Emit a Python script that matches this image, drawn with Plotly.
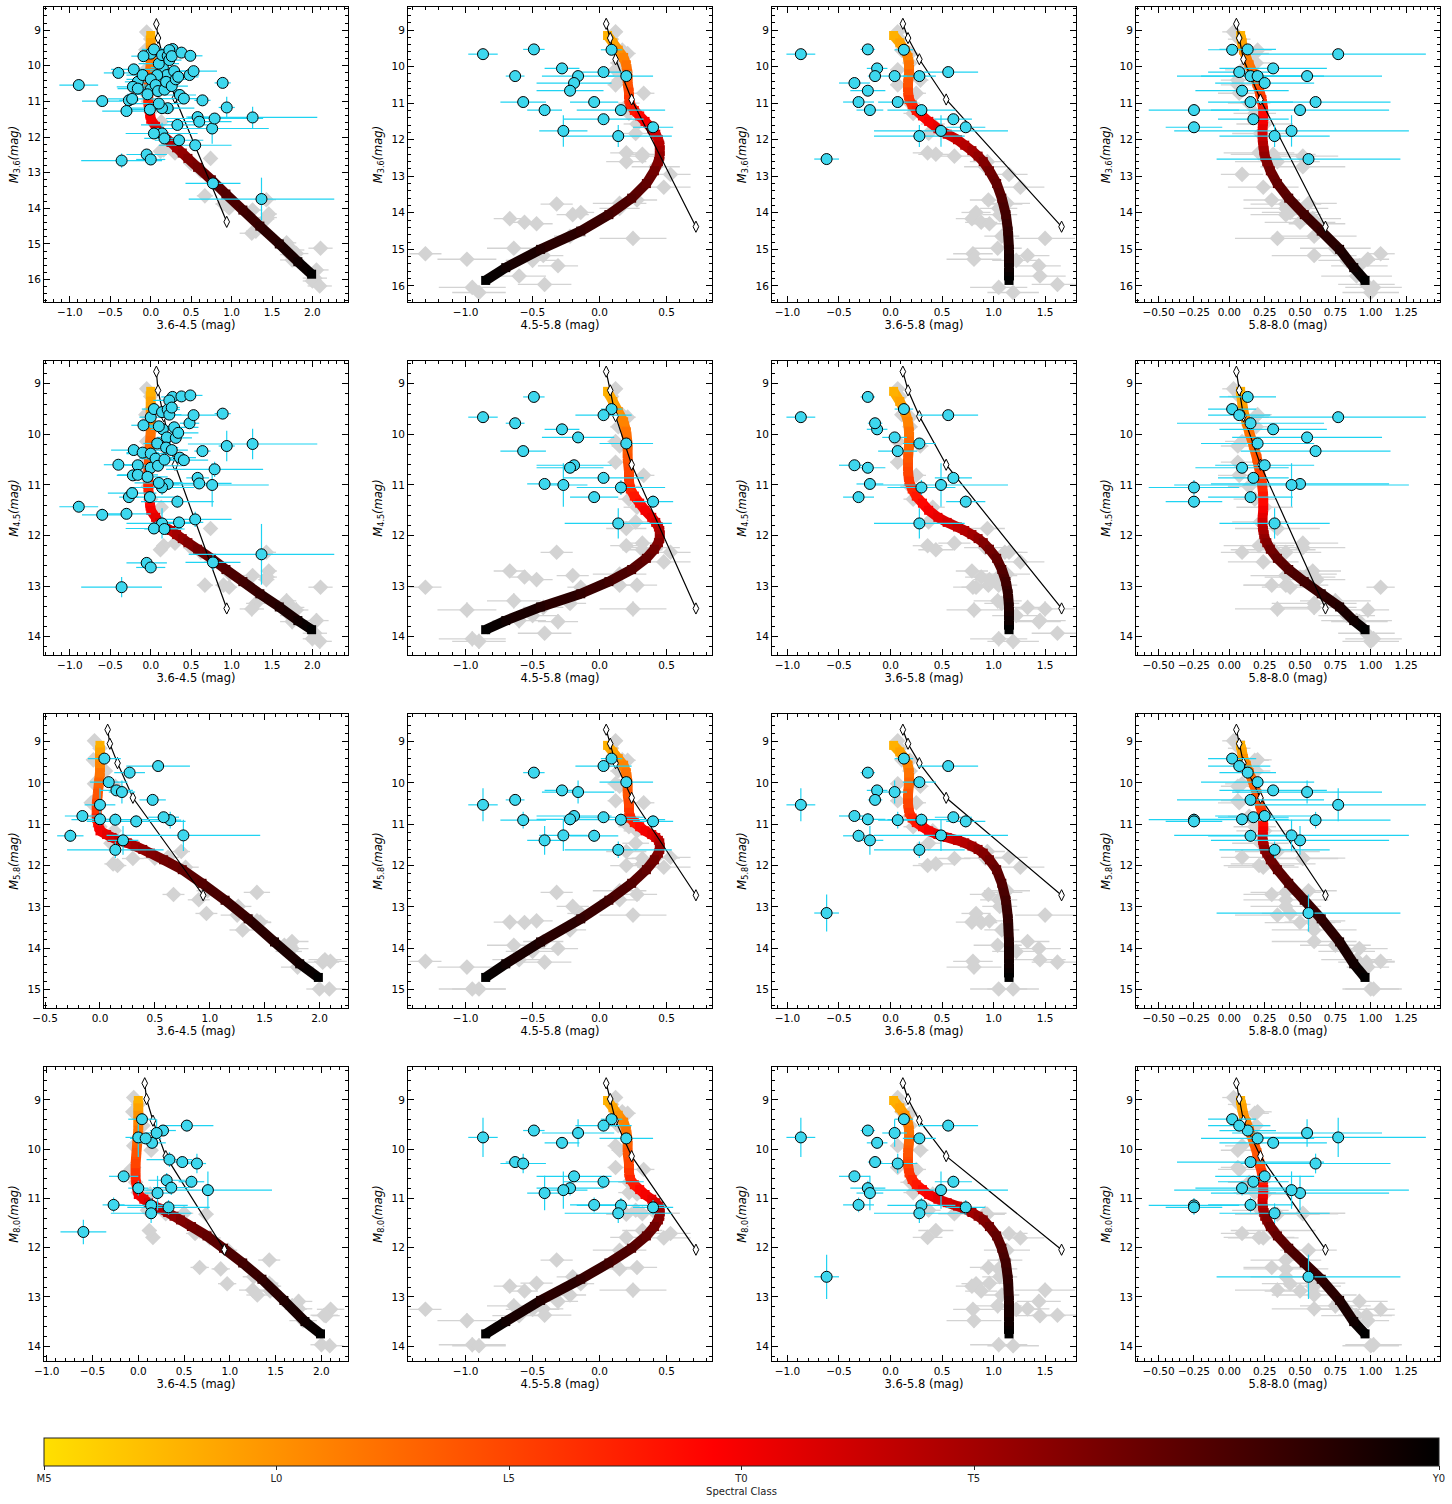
import math
import plotly.graph_objects as go

W, H = 1452, 1504

# ---------------- spectral-type scale of the colour bar (0=M5 ... 30=Y0) -------------
sp_tickvals = [0, 5, 10, 15, 20, 30]
sp_ticktext = ["M5", "L0", "L5", "T0", "T5", "Y0"]

# ---------------- model sequence (colour-coded by spectral type) ---------------------
trk_sp = [3, 4, 5, 6, 7, 8, 9, 10, 11, 12, 13, 14, 15, 16, 17, 18, 19, 20, 21, 22,
          23, 24, 25, 26, 27, 28, 29, 30]
trk_m36 = [9.15, 9.35, 9.55, 9.75, 9.95, 10.2, 10.45, 10.7, 10.9, 11.05, 11.2, 11.35,
           11.5, 11.7, 11.85, 12.0, 12.15, 12.3, 12.45, 12.6, 12.85, 13.2, 13.6, 14.05,
           14.5, 15.0, 15.5, 15.85]
trk_c36_45 = [0.0, 0.0, 0.0, 0.0, 0.0, -0.01, -0.02, -0.03, -0.03, -0.03, -0.02, -0.01,
              0.0, 0.06, 0.11, 0.17, 0.25, 0.32, 0.39, 0.46, 0.58, 0.75, 0.93, 1.14,
              1.35, 1.59, 1.82, 1.99]
trk_c45_58 = [0.06, 0.10, 0.14, 0.18, 0.20, 0.21, 0.21, 0.22, 0.22, 0.23, 0.26, 0.30,
              0.34, 0.39, 0.42, 0.44, 0.45, 0.45, 0.45, 0.44, 0.41, 0.35, 0.24, 0.07,
              -0.14, -0.44, -0.70, -0.85]
trk_c36_58 = [0.03, 0.09, 0.14, 0.17, 0.18, 0.18, 0.17, 0.17, 0.18, 0.21, 0.25, 0.31,
              0.37, 0.46, 0.55, 0.65, 0.72, 0.79, 0.85, 0.90, 0.96, 1.03, 1.08, 1.12,
              1.14, 1.15, 1.15, 1.15]
trk_c58_80 = [0.08, 0.09, 0.10, 0.12, 0.14, 0.17, 0.195, 0.215, 0.23, 0.235, 0.24, 0.24,
              0.24, 0.235, 0.235, 0.235, 0.24, 0.245, 0.25, 0.265, 0.29, 0.34, 0.42,
              0.53, 0.65, 0.78, 0.88, 0.96]

# ---------------- young sequence (black line, white diamonds) ------------------------
yng_m36 = [8.83, 9.22, 9.80, 10.90, 14.38]
yng_c36_45 = [0.07, 0.09, 0.16, 0.30, 0.94]
yng_c45_58 = [0.05, 0.08, 0.12, 0.24, 0.72]
yng_c58_80 = [0.05, 0.07, 0.10, 0.22, 0.68]

# ---------------- cyan objects with all IRAC bands (last one lacks [4.5]) -------------
A_m36 = [9.66, 9.53, 9.54, 10.05, 10.26, 10.26, 10.15, 10.26, 10.45, 10.66, 10.97,
         10.97, 11.19, 11.19, 11.44, 11.76, 11.66, 11.90, 12.53]
A_m45 = [9.66, 9.26, 9.50, 9.90, 9.78, 10.06, 9.62, 10.18, 10.61, 10.66, 10.33, 11.24,
         10.98, 11.05, 10.86, 11.00, 11.33, 11.76, None]
A_m58 = [10.53, 9.75, 9.41, 10.18, 10.41, 10.22, 9.59, 9.98, 10.80, 10.88, 10.90,
         11.28, 11.39, 10.89, 10.83, 11.27, 10.93, 11.62, 13.15]
A_m80 = [9.76, 9.62, 9.39, 9.87, 10.26, 9.67, 9.52, 9.78, 10.55, 10.79, 10.29, 11.13,
         10.89, 11.14, 10.66, 10.83, 11.18, 11.30, 12.59]
A_ec1 = [0.14, 0.14, 0.15, 0.15, 0.12, 0.12, 0.29, 0.17, 0.16, 0.11, 0.10, 0.12, 0.14,
         0.40, 0.14, 0.70, 0.45, 0.44, None]
A_ec2 = [0.11, 0.08, 0.08, 0.13, 0.07, 0.27, 0.21, 0.20, 0.28, 0.25, 0.17, 0.18, 0.13,
         0.33, 0.30, 0.18, 0.15, 0.40, None]
A_ec13 = [0.14, 0.07, 0.09, 0.10, 0.07, 0.12, 0.29, 0.16, 0.15, 0.17, 0.19, 0.15, 0.13,
          0.33, 0.18, 0.65, 0.19, 0.44, 0.12]
A_ec3 = [0.62, 0.20, 0.17, 0.38, 0.52, 0.53, 0.22, 0.40, 0.35, 0.33, 0.53, 0.30, 0.63,
         0.32, 0.25, 0.83, 0.20, 0.39, 0.65]
A_ey_lo = [0.07, 0.06, 0.08, 0.10, 0.10, 0.10, 0.08, 0.10, 0.10, 0.08, 0.10, 0.08, 0.10,
           0.15, 0.10, 0.43, 0.12, 0.30, 0.12]
A_ey_hi = [0.40, 0.10, 0.10, 0.12, 0.12, 0.28, 0.12, 0.10, 0.10, 0.15, 0.20, 0.15, 0.35,
           0.15, 0.12, 0.38, 0.15, 0.20, 0.45]

# ---------------- cyan objects with [3.6] and [4.5] (a few also [8.0]) ----------------
B_m36 = [10.54, 10.99, 10.20, 12.66, 11.27, 10.93, 10.10, 10.59, 10.64, 9.73, 10.26,
         12.49, 10.80, 10.38, 11.23, 12.63, 11.90, 10.54, 9.94, 10.71, 11.06, 9.70,
         12.04, 10.67, 10.45, 9.72, 9.84, 9.56, 10.57, 9.73, 10.15, 10.38, 10.31, 10.82,
         12.09, 9.63, 10.92, 9.72, 12.23, 11.57, 11.48, 13.30, 10.48, 11.17, 11.45, 13.74]
B_c36_45 = [-0.89, -0.60, -0.40, -0.36, -0.30, -0.23, -0.21, -0.22, -0.16, -0.09, -0.10,
            -0.05, -0.04, 0.00, -0.01, 0.00, 0.04, 0.06, 0.10, 0.09, 0.10, 0.14, 0.17,
            0.17, 0.19, 0.21, 0.23, 0.23, 0.26, 0.26, 0.29, 0.31, 0.34, 0.36, 0.35, 0.38,
            0.41, 0.49, 0.55, 0.60, 0.79, 0.77, 0.89, 0.94, 1.26, 1.37]
B_m80 = [None, 11.68, None, None, None, None, None, None, None, None, None, None, None,
         None, None, None, None, None, None, None, None, None, None, None, None, None,
         None, None, None, None, None, 10.63, 10.21, 10.78, None, None, None, None, None,
         None, None, None, None, None, None, None]
B_ec1 = [0.24, 0.25, 0.18, 0.5, 0.3, 0.3, 0.28, 0.2, 0.25, 0.15, 0.2, 0.25, 0.25, 0.3,
         0.3, 0.18, 0.35, 0.2, 0.25, 0.3, 0.3, 0.1, 0.25, 0.2, 0.15, 0.15, 0.15, 0.2,
         0.2, 0.1, 0.3, 0.2, 0.25, 0.2, 0.3, 0.15, 0.3, 0.15, 0.45, 0.4, 0.6, 0.34, 0.1,
         0.1, 0.8, 0.9]
B_ey = [0.1, 0.12, 0.06, 0.2, 0.1, 0.08, 0.06, 0.06, 0.06, 0.05, 0.05, 0.1, 0.08, 0.05,
        0.1, 0.1, 0.1, 0.05, 0.05, 0.05, 0.08, 0.05, 0.08, 0.05, 0.05, 0.05, 0.05, 0.05,
        0.05, 0.05, 0.06, 0.05, 0.05, 0.06, 0.1, 0.05, 0.06, 0.06, 0.15, 0.1, 0.15, 0.15,
        0.1, 0.3, 0.3, 0.6]
B_ey80 = [None, 0.25, None, None, None, None, None, None, None, None, None, None, None,
          None, None, None, None, None, None, None, None, None, None, None, None, None,
          None, None, None, None, None, 0.15, 0.15, 0.15, None, None, None, None, None,
          None, None, None, None, None, None, None]

# ---------------- field dwarfs (grey diamonds) ---------------------------------------
G_m36 = [9.05, 9.25, 9.55, 9.64, 9.9, 10.09, 10.37, 10.5, 10.73, 11.0, 11.28, 11.57,
         11.83, 12.36, 12.4, 12.45, 12.6, 12.74, 12.95, 13.3, 13.65, 13.74, 13.76, 13.88,
         13.99, 14.05, 14.16, 14.26, 14.3, 14.64, 14.7, 14.97, 15.12, 15.17, 15.27, 15.3,
         15.45, 15.96, 16.04, 15.73, 16.18]
G_c36_45 = [-0.05, 0.0, -0.06, -0.02, 0.05, -0.05, 0.14, -0.05, -0.08, -0.03, 0.0, 0.13,
            0.10, 0.16, 0.12, 0.30, 0.74, 0.50, 0.62, 0.78, 0.67, 0.98, 1.43, 0.90,
            0.97, 1.26, 1.46, 1.44, 1.43, 1.30, 1.25, 1.68, 2.10, 1.75, 1.80, 1.72, 1.75,
            2.03, 2.00, 2.05, 2.09]
G_c45_58 = [0.12, 0.09, 0.17, 0.21, 0.14, 0.12, 0.15, 0.12, 0.33, 0.22, 0.22, 0.28, 0.27,
            0.20, 0.32, 0.32, 0.20, 0.42, 0.53, 0.48, 0.28, 0.15, -0.32, 0.15, -0.14,
            -0.20, -0.67, -0.56, -0.47, -0.22, 0.25, -0.64, -1.30, -0.42, -0.99, -0.50,
            -0.31, -0.41, -0.95, -0.60, -0.90]
G_c58_80 = [0.03, 0.07, 0.20, 0.18, 0.19, 0.09, 0.06, 0.06, 0.07, 0.14, 0.18, 0.25, 0.22,
            0.21, 0.31, 0.52, 0.34, 0.52, 0.09, 0.24, 0.30, 0.56, 0.40, 0.40, 0.43, 0.40,
            0.59, 0.50, 0.62, 0.60, 0.34, 0.75, 1.07, 0.60, 0.98, 0.83, 0.92, 0.97, 1.02,
            0.90, 1.00]
G_ec1 = [0.04, 0.04, 0.04, 0.04, 0.04, 0.04, 0.05, 0.04, 0.05, 0.05, 0.05, 0.06, 0.06,
         0.08, 0.08, 0.1, 0.08, 0.1, 0.1, 0.12, 0.1, 0.1, 0.12, 0.1, 0.1, 0.12, 0.1, 0.12,
         0.1, 0.12, 0.15, 0.12, 0.15, 0.15, 0.15, 0.12, 0.15, 0.15, 0.12, 0.15, 0.15]
G_ec2 = [0.05, 0.05, 0.05, 0.06, 0.06, 0.06, 0.06, 0.06, 0.08, 0.08, 0.08, 0.1, 0.1, 0.12,
         0.15, 0.12, 0.15, 0.18, 0.15, 0.2, 0.15, 0.2, 0.12, 0.15, 0.1, 0.12, 0.12, 0.1,
         0.12, 0.12, 0.25, 0.2, 0.12, 0.15, 0.22, 0.2, 0.15, 0.2, 0.25, 0.2, 0.2]
G_ec3 = [0.08, 0.08, 0.1, 0.1, 0.1, 0.12, 0.12, 0.12, 0.15, 0.15, 0.15, 0.2, 0.2, 0.25,
         0.3, 0.25, 0.3, 0.3, 0.15, 0.25, 0.2, 0.2, 0.25, 0.3, 0.2, 0.25, 0.2, 0.25, 0.2,
         0.3, 0.3, 0.25, 0.1, 0.3, 0.15, 0.2, 0.2, 0.2, 0.2, 0.25, 0.2]
G_ey = [0.03, 0.03, 0.04, 0.04, 0.04, 0.04, 0.05, 0.05, 0.05, 0.06, 0.06, 0.06, 0.06,
        0.08, 0.08, 0.08, 0.08, 0.08, 0.1, 0.1, 0.1, 0.1, 0.1, 0.1, 0.12, 0.12, 0.12, 0.12,
        0.12, 0.12, 0.15, 0.15, 0.12, 0.15, 0.15, 0.15, 0.15, 0.12, 0.15, 0.15, 0.15]

# ---------------- axis labels / layout ------------------------------------------------
col_keys = ["c1", "c2", "c13", "c3"]
col_titles = ["3.6-4.5 (mag)", "4.5-5.8 (mag)", "3.6-5.8 (mag)", "5.8-8.0 (mag)"]
row_keys = ["m36", "m45", "m58", "m80"]
row_titles = ["<i>M</i><sub>3.6</sub><i>(mag)</i>", "<i>M</i><sub>4.5</sub><i>(mag)</i>",
              "<i>M</i><sub>5.8</sub><i>(mag)</i>", "<i>M</i><sub>8.0</sub><i>(mag)</i>"]
col_px = [(44, 348), (408, 712), (772, 1076), (1136, 1440)]
row_px = [(7, 302), (361, 655), (714, 1008), (1067, 1361)]
x_ranges = [
    [[-1.32, 2.44], [-1.43, 0.84], [-1.15, 1.80], [-0.66, 1.49]],
    [[-1.32, 2.44], [-1.43, 0.84], [-1.15, 1.80], [-0.66, 1.49]],
    [[-0.51, 2.26], [-1.43, 0.84], [-1.15, 1.80], [-0.66, 1.49]],
    [[-1.03, 2.29], [-1.43, 0.84], [-1.15, 1.80], [-0.66, 1.49]],
]
y_ranges = [
    [[16.63, 8.35], [16.44, 8.37], [16.44, 8.37], [16.44, 8.37]],
    [[14.36, 8.55], [14.36, 8.55], [14.36, 8.55], [14.36, 8.55]],
    [[15.45, 8.33], [15.45, 8.33], [15.45, 8.33], [15.45, 8.33]],
    [[14.30, 8.33], [14.30, 8.33], [14.30, 8.33], [14.30, 8.33]],
]


def diff(a, b):
    return [None if (p is None or q is None) else p - q for p, q in zip(a, b)]


def addl(a, b):
    return [None if (p is None or q is None) else p + q for p, q in zip(a, b)]


# model track in all bands
trk_m45 = diff(trk_m36, trk_c36_45)
trk_m58 = diff(trk_m45, trk_c45_58)
trk_m80 = diff(trk_m58, trk_c58_80)
TRK = {"m36": trk_m36, "m45": trk_m45, "m58": trk_m58, "m80": trk_m80,
       "c1": trk_c36_45, "c2": trk_c45_58, "c13": trk_c36_58, "c3": trk_c58_80}

yng_m45 = diff(yng_m36, yng_c36_45)
yng_m58 = diff(yng_m45, yng_c45_58)
yng_m80 = diff(yng_m58, yng_c58_80)
YNG = {"m36": yng_m36, "m45": yng_m45, "m58": yng_m58, "m80": yng_m80,
       "c1": yng_c36_45, "c2": yng_c45_58, "c13": addl(yng_c36_45, yng_c45_58),
       "c3": yng_c58_80}

CYA = {"m36": A_m36, "m45": A_m45, "m58": A_m58, "m80": A_m80,
       "c1": diff(A_m36, A_m45), "c2": diff(A_m45, A_m58), "c13": diff(A_m36, A_m58),
       "c3": diff(A_m58, A_m80),
       "e_c1": A_ec1, "e_c2": A_ec2, "e_c13": A_ec13, "e_c3": A_ec3,
       "e_m36": A_ey_lo, "e_m45": A_ey_lo, "e_m58": A_ey_hi, "e_m80": A_ey_hi}
nones = [None] * len(B_m36)
CYB = {"m36": B_m36, "m45": diff(B_m36, B_c36_45), "m58": nones, "m80": B_m80,
       "c1": B_c36_45, "c2": nones, "c13": nones, "c3": nones,
       "e_c1": B_ec1, "e_c2": nones, "e_c13": nones, "e_c3": nones,
       "e_m36": B_ey, "e_m45": B_ey, "e_m58": nones, "e_m80": B_ey80}

G_m45 = diff(G_m36, G_c36_45)
G_m58 = diff(G_m45, G_c45_58)
G_m80 = diff(G_m58, G_c58_80)
G_ec13 = [math.hypot(a, b) for a, b in zip(G_ec1, G_ec2)]
GRY = {"m36": G_m36, "m45": G_m45, "m58": G_m58, "m80": G_m80,
       "c1": G_c36_45, "c2": G_c45_58, "c13": addl(G_c36_45, G_c45_58), "c3": G_c58_80,
       "e_c1": G_ec1, "e_c2": G_ec2, "e_c13": G_ec13, "e_c3": G_ec3,
       "e_m36": G_ey, "e_m45": G_ey, "e_m58": G_ey, "e_m80": G_ey}


def pts(ds, rk, ck):
    xs, ys, exs, eys = [], [], [], []
    for i in range(len(ds[rk])):
        xv, yv = ds[ck][i], ds[rk][i]
        if xv is None or yv is None:
            continue
        xs.append(xv)
        ys.append(yv)
        exs.append(ds["e_" + ck][i] or 0)
        eys.append(ds["e_" + rk][i] or 0)
    return xs, ys, exs, eys


CS = [[0.0, "rgb(255,224,0)"], [0.48, "rgb(255,0,0)"], [1.0, "rgb(0,0,0)"]]


def sp_rgb(s):
    p = s / 30.0
    if p <= 0.48:
        return "rgb(255,%d,0)" % round(224 * (1 - p / 0.48))
    return "rgb(%d,0,0)" % round(255 * (1 - (p - 0.48) / 0.52))


CYAN_FILL = "#3dd7ee"
CYAN_BAR = "#1fd3f2"
GREY = "#d3d3d3"
FONT = "DejaVu Sans"
TICK_FS = 10.5
TITLE_FS = 11.5

fig = go.Figure()

for r in range(4):
    for c in range(4):
        k = r * 4 + c + 1
        xa = "x" if k == 1 else "x%d" % k
        ya = "y" if k == 1 else "y%d" % k
        rk, ck = row_keys[r], col_keys[c]

        # grey field dwarfs
        gx, gy, gex, gey = pts(GRY, rk, ck)
        fig.add_trace(go.Scatter(
            x=gx, y=gy, mode="markers", xaxis=xa, yaxis=ya, hoverinfo="skip",
            marker=dict(symbol="diamond", size=12, color=GREY, line=dict(width=0)),
            error_x=dict(type="data", array=gex, color=GREY, thickness=1.3, width=0),
            error_y=dict(type="data", array=gey, color=GREY, thickness=1.3, width=0)))

        # model sequence as colour-coded thick line
        tx, ty = TRK[ck], TRK[rk]
        for j in range(len(trk_sp) - 1):
            fig.add_trace(go.Scatter(
                x=[tx[j], tx[j + 1]], y=[ty[j], ty[j + 1]], mode="lines",
                xaxis=xa, yaxis=ya, hoverinfo="skip",
                line=dict(color=sp_rgb((trk_sp[j] + trk_sp[j + 1]) / 2), width=10)))
        fig.add_trace(go.Scatter(
            x=tx, y=ty, mode="markers", xaxis=xa, yaxis=ya, hoverinfo="skip",
            marker=dict(symbol="square", size=9, color=trk_sp, colorscale=CS, cmin=0,
                        cmax=30, line=dict(width=0), showscale=(k == 1),
                        colorbar=dict(
                            orientation="h", x=(44 + 1439) / 2 / W, xanchor="center",
                            y=1 - 1438 / H, yanchor="top", len=1395, lenmode="pixels",
                            thickness=28, thicknessmode="pixels", outlinewidth=1,
                            outlinecolor="#222", xpad=0, ypad=0,
                            tickvals=sp_tickvals, ticktext=sp_ticktext, ticks="outside",
                            ticklen=4, tickcolor="#222",
                            tickfont=dict(size=10, family=FONT, color="#222"),
                            title=dict(text="Spectral Class", side="bottom",
                                       font=dict(size=10, family=FONT, color="#222"))))))

        # young sequence
        fig.add_trace(go.Scatter(
            x=YNG[ck], y=YNG[rk], mode="lines+markers", xaxis=xa, yaxis=ya,
            hoverinfo="skip", line=dict(color="black", width=1.2),
            marker=dict(symbol="diamond-tall", size=8, color="white",
                        line=dict(color="black", width=1))))

        # cyan objects
        ax_, ay_, aex, aey = pts(CYA, rk, ck)
        bx_, by_, bex, bey = pts(CYB, rk, ck)
        fig.add_trace(go.Scatter(
            x=ax_ + bx_, y=ay_ + by_, mode="markers", xaxis=xa, yaxis=ya,
            hoverinfo="skip",
            marker=dict(symbol="circle", size=11, color=CYAN_FILL,
                        line=dict(color="black", width=1)),
            error_x=dict(type="data", array=aex + bex, color=CYAN_BAR, thickness=1.2,
                         width=0),
            error_y=dict(type="data", array=aey + bey, color=CYAN_BAR, thickness=1.2,
                         width=0)))

        # axes
        x0, x1 = col_px[c]
        y0, y1 = row_px[r]
        xdt, xmin, xfmt = (0.25, 0.05, ".2f") if c == 3 else (0.5, 0.1, ".1f")
        common = dict(showline=True, linecolor="black", linewidth=1, mirror="allticks",
                      ticks="inside", ticklen=6, tickwidth=1, tickcolor="black",
                      showgrid=False, zeroline=False, automargin=False, tickangle=0,
                      tickfont=dict(size=TICK_FS, family=FONT, color="black"))
        fig.layout["xaxis" if k == 1 else "xaxis%d" % k] = dict(
            domain=[x0 / W, x1 / W], anchor=ya, range=x_ranges[r][c],
            dtick=xdt, tick0=0, tickformat=xfmt,
            minor=dict(ticks="inside", ticklen=3, dtick=xmin, tickcolor="black"),
            title=dict(text=col_titles[c],
                       font=dict(size=TITLE_FS, family=FONT, color="black"), standoff=4),
            **common)
        fig.layout["yaxis" if k == 1 else "yaxis%d" % k] = dict(
            domain=[1 - y1 / H, 1 - y0 / H], anchor=xa, range=y_ranges[r][c],
            dtick=1, tick0=0, tickformat="d",
            minor=dict(ticks="inside", ticklen=3, dtick=0.2, tickcolor="black"),
            title=dict(text=row_titles[r],
                       font=dict(size=TITLE_FS, family=FONT, color="black"), standoff=6),
            **common)

fig.update_layout(template="none", width=W, height=H,
                  margin=dict(l=0, r=0, t=0, b=0, autoexpand=False),
                  paper_bgcolor="white", plot_bgcolor="white", showlegend=False,
                  hovermode=False,
                  font=dict(family=FONT, size=11, color="black"))

fig.write_html("out.html",
               config={"displayModeBar": False, "staticPlot": True},
               post_script="document.body.style.margin='0px';"
                           "document.body.style.padding='0px';"
                           "document.body.style.overflow='hidden';")
